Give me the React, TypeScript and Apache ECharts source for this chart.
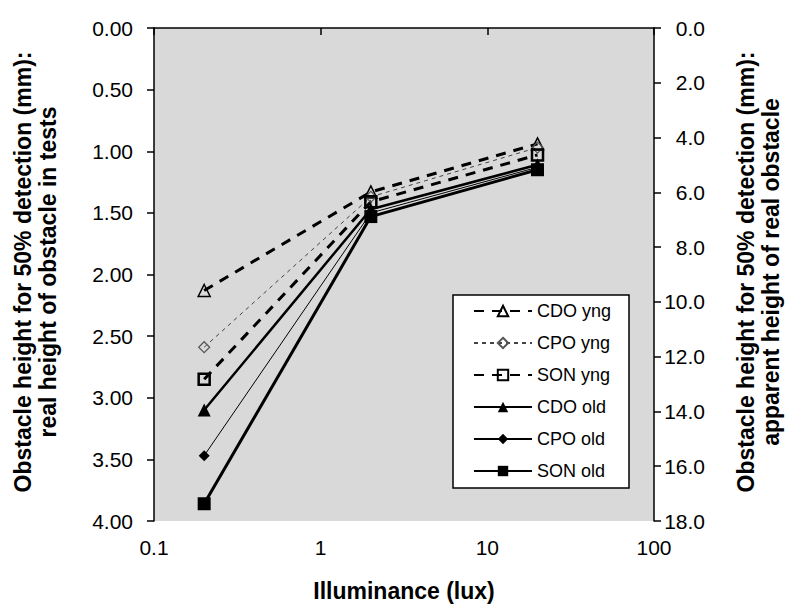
import React, { useEffect, useRef } from "react";
import * as echarts from "echarts";

const illuminance = [0.2, 2, 20];
const cdoYng = [2.13, 1.33, 0.94];
const cpoYng = [2.59, 1.37, 0.97];
const sonYng = [2.85, 1.41, 1.03];
const cdoOld = [3.1, 1.47, 1.11];
const cpoOld = [3.47, 1.5, 1.13];
const sonOld = [3.86, 1.53, 1.15];

const seriesNames = ["CDO yng", "CPO yng", "SON yng", "CDO old", "CPO old", "SON old"];

const leftTitle = "Obstacle height for 50% detection (mm):\nreal height of obstacle in tests";
const rightTitle = "Obstacle height for 50% detection (mm):\napparent height of real obstacle";
const xTitle = "Illuminance (lux)";

const FONT = "Liberation Sans, Arial, sans-serif";

function pairs(vals: number[]) {
  return illuminance.map((x, i) => [x, vals[i]]);
}

export default function App() {
  const ref = useRef<HTMLDivElement>(null);
  useEffect(() => {
    if (!ref.current) return;
    const chart = echarts.init(ref.current, null, { renderer: "svg" });
    const axisLine = { show: true, lineStyle: { color: "#000", width: 1.5 } };
    const axisTick = { show: true, inside: false, length: 7, lineStyle: { color: "#000", width: 1.5 } };
    const labelStyle = { color: "#000", fontSize: 21, fontFamily: FONT };
    const hollow = { color: "rgba(0,0,0,0)", borderColor: "#000" };
    const titleStyle = {
      fontSize: 23,
      fontWeight: "bold",
      fontFamily: FONT,
      fill: "#000",
      align: "center",
      verticalAlign: "middle",
      lineHeight: 25,
    };
    chart.setOption({
      animation: false,
      backgroundColor: "#fff",
      grid: {
        left: 154,
        right: 141,
        top: 28,
        bottom: 83,
        show: true,
        backgroundColor: "#d9d9d9",
        borderWidth: 0,
      },
      xAxis: {
        type: "log",
        logBase: 10,
        min: 0.1,
        max: 100,
        axisLine,
        axisTick,
        splitLine: { show: false },
        minorTick: { show: false },
        axisLabel: {
          ...labelStyle,
          margin: 16,
          formatter: (v: number) => (v < 1 ? v.toFixed(1) : String(Math.round(v))),
        },
      },
      yAxis: [
        {
          type: "value",
          inverse: true,
          min: 0,
          max: 4,
          interval: 0.5,
          position: "left",
          axisLine,
          axisTick,
          splitLine: { show: false },
          axisLabel: { ...labelStyle, margin: 21, formatter: (v: number) => v.toFixed(2) },
        },
        {
          type: "value",
          inverse: true,
          min: 0,
          max: 18,
          interval: 2,
          position: "right",
          axisLine,
          axisTick,
          splitLine: { show: false },
          axisLabel: {
            ...labelStyle,
            margin: 51,
            align: "right",
            formatter: (v: number) => v.toFixed(1),
          },
        },
      ],
      legend: {
        orient: "vertical",
        left: 473,
        top: 302,
        padding: 0,
        itemGap: 14,
        itemWidth: 58,
        itemHeight: 13,
        z: 10,
        data: seriesNames,
        textStyle: { color: "#000", fontSize: 18, fontFamily: FONT },
      },
      graphic: [
        {
          type: "rect",
          z: 5,
          shape: { x: 453, y: 295, width: 176, height: 193 },
          style: { fill: "#fff", stroke: "#000", lineWidth: 1.5 },
        },
        {
          type: "text",
          x: 35,
          y: 272,
          rotation: Math.PI / 2,
          style: { ...titleStyle, text: leftTitle },
        },
        {
          type: "text",
          x: 758,
          y: 272,
          rotation: Math.PI / 2,
          style: { ...titleStyle, text: rightTitle },
        },
        {
          type: "text",
          x: 404,
          y: 591,
          style: { ...titleStyle, text: xTitle },
        },
      ],
      series: [
        {
          name: "CDO yng",
          type: "line",
          data: pairs(cdoYng),
          symbol: "triangle",
          symbolSize: 12,
          lineStyle: { color: "#000", width: 3, type: [10, 8] },
          itemStyle: { ...hollow, borderWidth: 1.5 },
        },
        {
          name: "CPO yng",
          type: "line",
          data: pairs(cpoYng),
          symbol: "diamond",
          symbolSize: 11,
          lineStyle: { color: "#444", width: 1, type: [4, 4] },
          itemStyle: { color: "rgba(0,0,0,0)", borderColor: "#555", borderWidth: 1.2 },
        },
        {
          name: "SON yng",
          type: "line",
          data: pairs(sonYng),
          symbol: "rect",
          symbolSize: 11,
          lineStyle: { color: "#000", width: 3, type: [10, 8] },
          itemStyle: { ...hollow, borderWidth: 2.5 },
        },
        {
          name: "CDO old",
          type: "line",
          data: pairs(cdoOld),
          symbol: "triangle",
          symbolSize: 13,
          lineStyle: { color: "#000", width: 2.5 },
          itemStyle: { color: "#000" },
        },
        {
          name: "CPO old",
          type: "line",
          data: pairs(cpoOld),
          symbol: "diamond",
          symbolSize: 11,
          lineStyle: { color: "#000", width: 1 },
          itemStyle: { color: "#000" },
        },
        {
          name: "SON old",
          type: "line",
          data: pairs(sonOld),
          symbol: "rect",
          symbolSize: 13,
          lineStyle: { color: "#000", width: 3 },
          itemStyle: { color: "#000" },
        },
      ],
    });
    return () => chart.dispose();
  }, []);
  return (
    <div
      ref={ref}
      style={{ position: "absolute", left: 0, top: 0, width: 795, height: 604 }}
    />
  );
}
